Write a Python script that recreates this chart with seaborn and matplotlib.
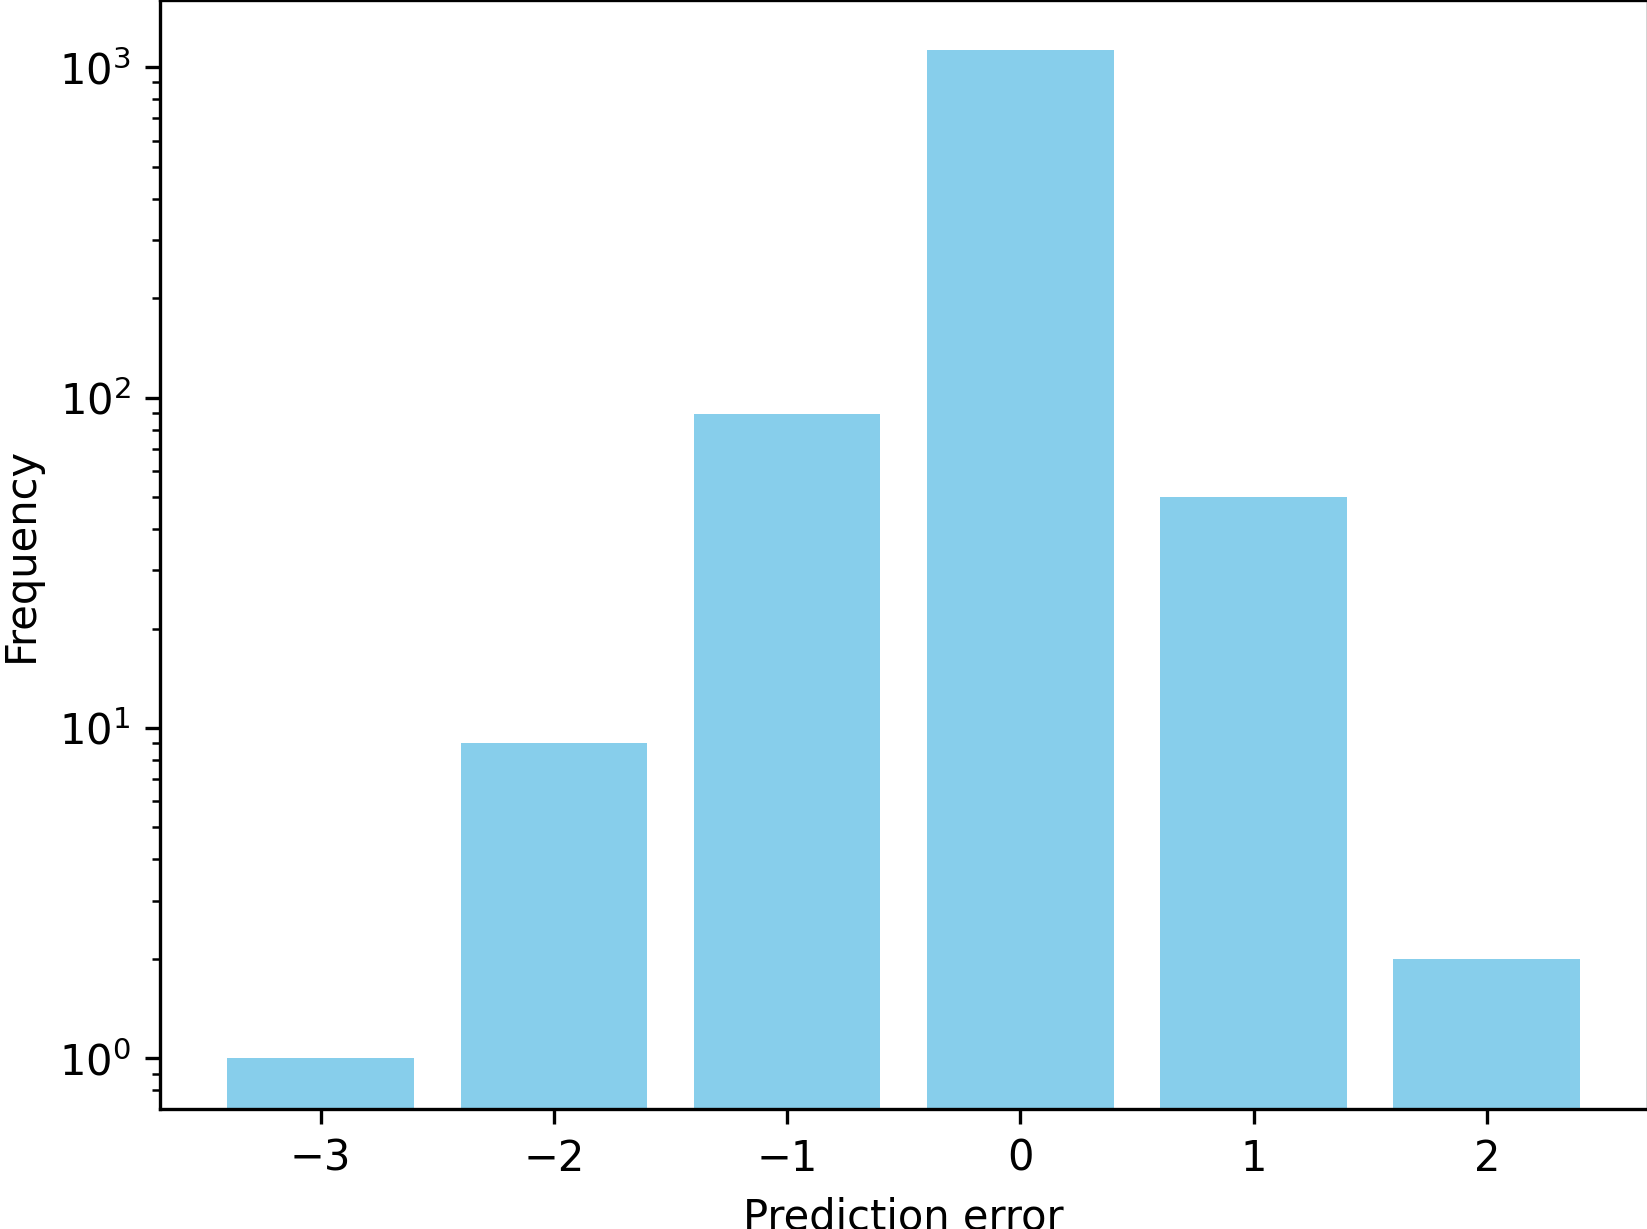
import matplotlib
matplotlib.use("Agg")
import matplotlib.pyplot as plt
from matplotlib.transforms import Bbox
import seaborn as sns
import pandas as pd

errors = [-3, -2, -1, 0, 1, 2]
counts = [1, 9, 89, 1125, 50, 2]

df = pd.DataFrame({"error": errors, "count": counts})

fig, ax = plt.subplots(figsize=(6.4, 4.8), dpi=300)
ax.set_yscale("log")
sns.barplot(data=df, x="error", y="count", native_scale=True, color="skyblue",
            saturation=1, errorbar=None, width=0.8, ax=ax)
ax.relim()
ax.autoscale_view()
ax.set_xlabel("Prediction error")
ax.set_ylabel("Frequency")

fig.canvas.draw()
tb = fig.get_tightbbox(fig.canvas.get_renderer())
x0, y0, x1, y1 = tb.x0, tb.y0, tb.x1, tb.y1
height_in = 1229 / 300
bb = Bbox([[x0, y1 - height_in], [x1, y1]])
fig.savefig("out.png", dpi=300, bbox_inches=bb, pad_inches=0)
